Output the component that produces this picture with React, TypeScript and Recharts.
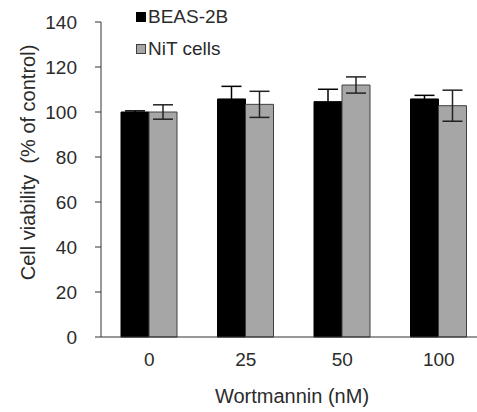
import { BarChart, Bar, XAxis, YAxis, ErrorBar } from "recharts";

const categories = ["0", "25", "50", "100"];
const beasValues = [100, 105.8, 104.6, 105.8];
const beasErrors = [0.5, 5.6, 5.5, 1.6];
const nitValues = [100, 103.4, 112, 102.8];
const nitErrors = [3.2, 5.8, 3.6, 6.9];
const yTicks = [0, 20, 40, 60, 80, 100, 120, 140];
const legendItems = [
  { label: "BEAS-2B", fill: "#000", stroke: "#000" },
  { label: "NiT cells", fill: "#a6a6a6", stroke: "#404040" },
];

const data = categories.map((c, i) => ({
  dose: c,
  beas: beasValues[i],
  beasErr: beasErrors[i],
  nit: nitValues[i],
  nitErr: nitErrors[i],
}));

const FONT = "'Liberation Sans', Arial, sans-serif";
const TEXT = "#2b2b2b";

// Legend sits over the plot's top-left corner, as in the Excel original.
// Kept outside the chart so it doesn't eat into the plot area.
function ChartLegend() {
  return (
    <div
      style={{
        position: "absolute",
        left: 136,
        top: 1,
        fontFamily: FONT,
        fontSize: 19,
        color: TEXT,
        lineHeight: "32px",
      }}
    >
      {legendItems.map((it) => (
        <div key={it.label} style={{ display: "flex", alignItems: "center" }}>
          <span
            style={{
              display: "inline-block",
              width: 8,
              height: 8,
              background: it.fill,
              border: `1px solid ${it.stroke}`,
              marginRight: 2,
            }}
          />
          {it.label}
        </div>
      ))}
    </div>
  );
}

export default function App() {
  return (
    <div
      style={{
        position: "absolute",
        left: 0,
        top: 0,
        width: 477,
        height: 412,
        overflow: "hidden",
        background: "#fff",
      }}
    >
      <BarChart
        width={500}
        height={412}
        data={data}
        margin={{ top: 22, right: 13, left: 0, bottom: 0 }}
        barCategoryGap={20}
        barGap={0}
      >
        <XAxis
          dataKey="dose"
          height={75}
          tickLine={false}
          tickSize={0}
          tickMargin={16}
          axisLine={{ stroke: "#333" }}
          tick={{ fill: TEXT, fontSize: 19, fontFamily: FONT }}
          label={{
            content: (props: any) => {
              const vb = props.viewBox;
              return (
                <text
                  x={vb.x + vb.width / 2 - 2}
                  y={vb.y + 66}
                  textAnchor="middle"
                  fill={TEXT}
                  fontSize={20}
                  fontFamily={FONT}
                >
                  Wortmannin (nM)
                </text>
              );
            },
          }}
        />
        <YAxis
          width={101}
          domain={[0, 140]}
          ticks={yTicks}
          interval={0}
          tickSize={6}
          tickMargin={18}
          axisLine={{ stroke: "#333" }}
          tickLine={{ stroke: "#333" }}
          tick={{ fill: TEXT, fontSize: 19, fontFamily: FONT }}
          label={{
            content: (props: any) => {
              const vb = props.viewBox;
              const cx = 28;
              const cy = vb.y + vb.height / 2 - 17;
              return (
                <text
                  x={cx}
                  y={cy}
                  transform={`rotate(-90 ${cx} ${cy})`}
                  textAnchor="middle"
                  dominantBaseline="central"
                  fill={TEXT}
                  fontSize={20}
                  fontFamily={FONT}
                  style={{ whiteSpace: "pre" }}
                >
                  {"Cell viability  (% of control)"}
                </text>
              );
            },
          }}
        />
        <Bar dataKey="beas" name="BEAS-2B" fill="#000" stroke="#000" isAnimationActive={false}>
          <ErrorBar dataKey="beasErr" width={10} stroke="#000" strokeWidth={1.5} direction="y" />
        </Bar>
        <Bar dataKey="nit" name="NiT cells" fill="#a6a6a6" stroke="#404040" strokeWidth={1} isAnimationActive={false}>
          <ErrorBar dataKey="nitErr" width={10} stroke="#222" strokeWidth={1.5} direction="y" />
        </Bar>
      </BarChart>
      <ChartLegend />
    </div>
  );
}
